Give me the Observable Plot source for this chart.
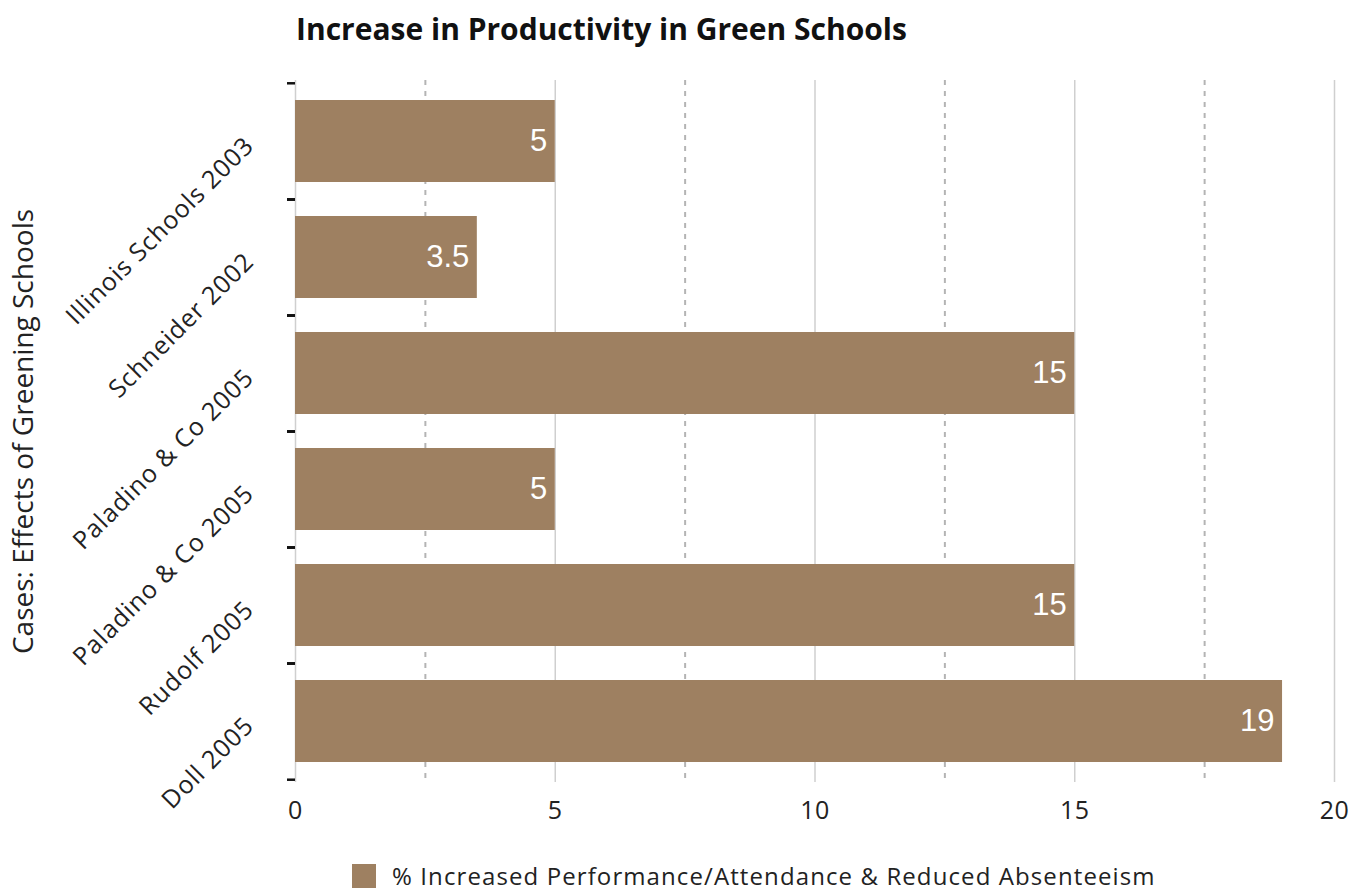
<!DOCTYPE html>
<html><head><meta charset="utf-8">
<script src="https://cdn.jsdelivr.net/npm/d3@7"></script>
<script src="https://cdn.jsdelivr.net/npm/@observablehq/plot@0.6"></script>
<style>
html,body{margin:0;padding:0;background:#fff;}
body{width:1360px;height:890px;overflow:hidden;position:relative;font-family:"Open Sans",sans-serif;}
#title{position:absolute;left:296px;top:9px;font-family:"Open Sans",sans-serif;font-weight:bold;font-size:30px;line-height:40px;color:#111;white-space:nowrap;}
#chart{position:absolute;left:0;top:60px;}
#legend{position:absolute;left:352px;top:863px;height:26px;display:flex;align-items:center;font-size:24px;line-height:24px;letter-spacing:1.1px;color:#222;white-space:nowrap;}
#legend .sw{width:24px;height:24px;background:#9e8061;margin-right:16px;flex:none;}
g[aria-label="values"] text{text-shadow:1px 2px 2px rgba(0,0,0,0.85);}
g[aria-label="y-axis tick label"] text{letter-spacing:0.9px;}
g[aria-label="y-title"] text{letter-spacing:1.2px;}
g[aria-label="x-axis tick label"] text{letter-spacing:0.5px;}
</style></head>
<body>
<div id="title">Increase in Productivity in Green Schools</div>
<div id="chart"></div>
<div id="legend"><div class="sw"></div><span>% Increased Performance/Attendance &amp; Reduced Absenteeism</span></div>
<script>
const categories = ["Illinois Schools 2003", "Schneider 2002", "Paladino & Co 2005", "Paladino & Co 2005", "Rudolf 2005", "Doll 2005"];
const values = [5, 3.5, 15, 5, 15, 19];
const majorTicks = [0, 5, 10, 15, 20];
const minorTicks = [2.5, 7.5, 12.5, 17.5];
const yTitle = "Cases: Effects of Greening Schools";

const rows = categories.map((c, i) => ({id: i, name: c, value: values[i]}));
const W = 1360, H = 780, mt = 20, mb = 58, ml = 295, mr = 26;
const pIn = 0.29, pOut = 0.16;
const step = (H - mt - mb) / (categories.length - pIn + 2 * pOut);
const barColor = "#9e8061";

const chart = Plot.plot({
  width: W, height: H,
  marginTop: mt, marginBottom: mb, marginLeft: ml, marginRight: mr,
  style: {fontFamily: "'Open Sans', sans-serif", color: "#222", background: "#fff"},
  x: {domain: [0, 20]},
  y: {domain: rows.map(d => d.id), paddingInner: pIn, paddingOuter: pOut},
  marks: [
    Plot.ruleX(minorTicks, {stroke: "#b4b4b4", strokeWidth: 2, strokeDasharray: "5,6"}),
    Plot.ruleX(majorTicks, {stroke: "#cfcfcf", strokeWidth: 1.5}),
    Plot.barX(rows, {x: "value", y: "id", fill: barColor}),
    Plot.text(rows, {x: "value", y: "id", text: d => String(d.value), textAnchor: "end", dx: -8,
      fill: "white", fontSize: 31, fontFamily: "'Liberation Sans', Arial, sans-serif", ariaLabel: "values"}),
    Plot.axisX({ticks: majorTicks, tickSize: 0, tickPadding: 19, fontSize: 25, label: null}),
    Plot.axisY({tickSize: 0, tickPadding: 46, tickRotate: -45, tickFormat: i => categories[i], fontSize: 25, label: null}),
    Plot.axisY({text: null, tickSize: 8, dy: -step / 2, stroke: "#111", strokeWidth: 2.5, label: null}),
    Plot.axisY({text: null, tickSize: 8, dy: step / 2, stroke: "#111", strokeWidth: 2.5, label: null}),
    Plot.text([yTitle], {frameAnchor: "left", textAnchor: "middle", rotate: -90, dx: -271, fontSize: 28, fill: "#222", ariaLabel: "y-title"})
  ]
});
document.getElementById("chart").appendChild(chart);
</script>
</body></html>
